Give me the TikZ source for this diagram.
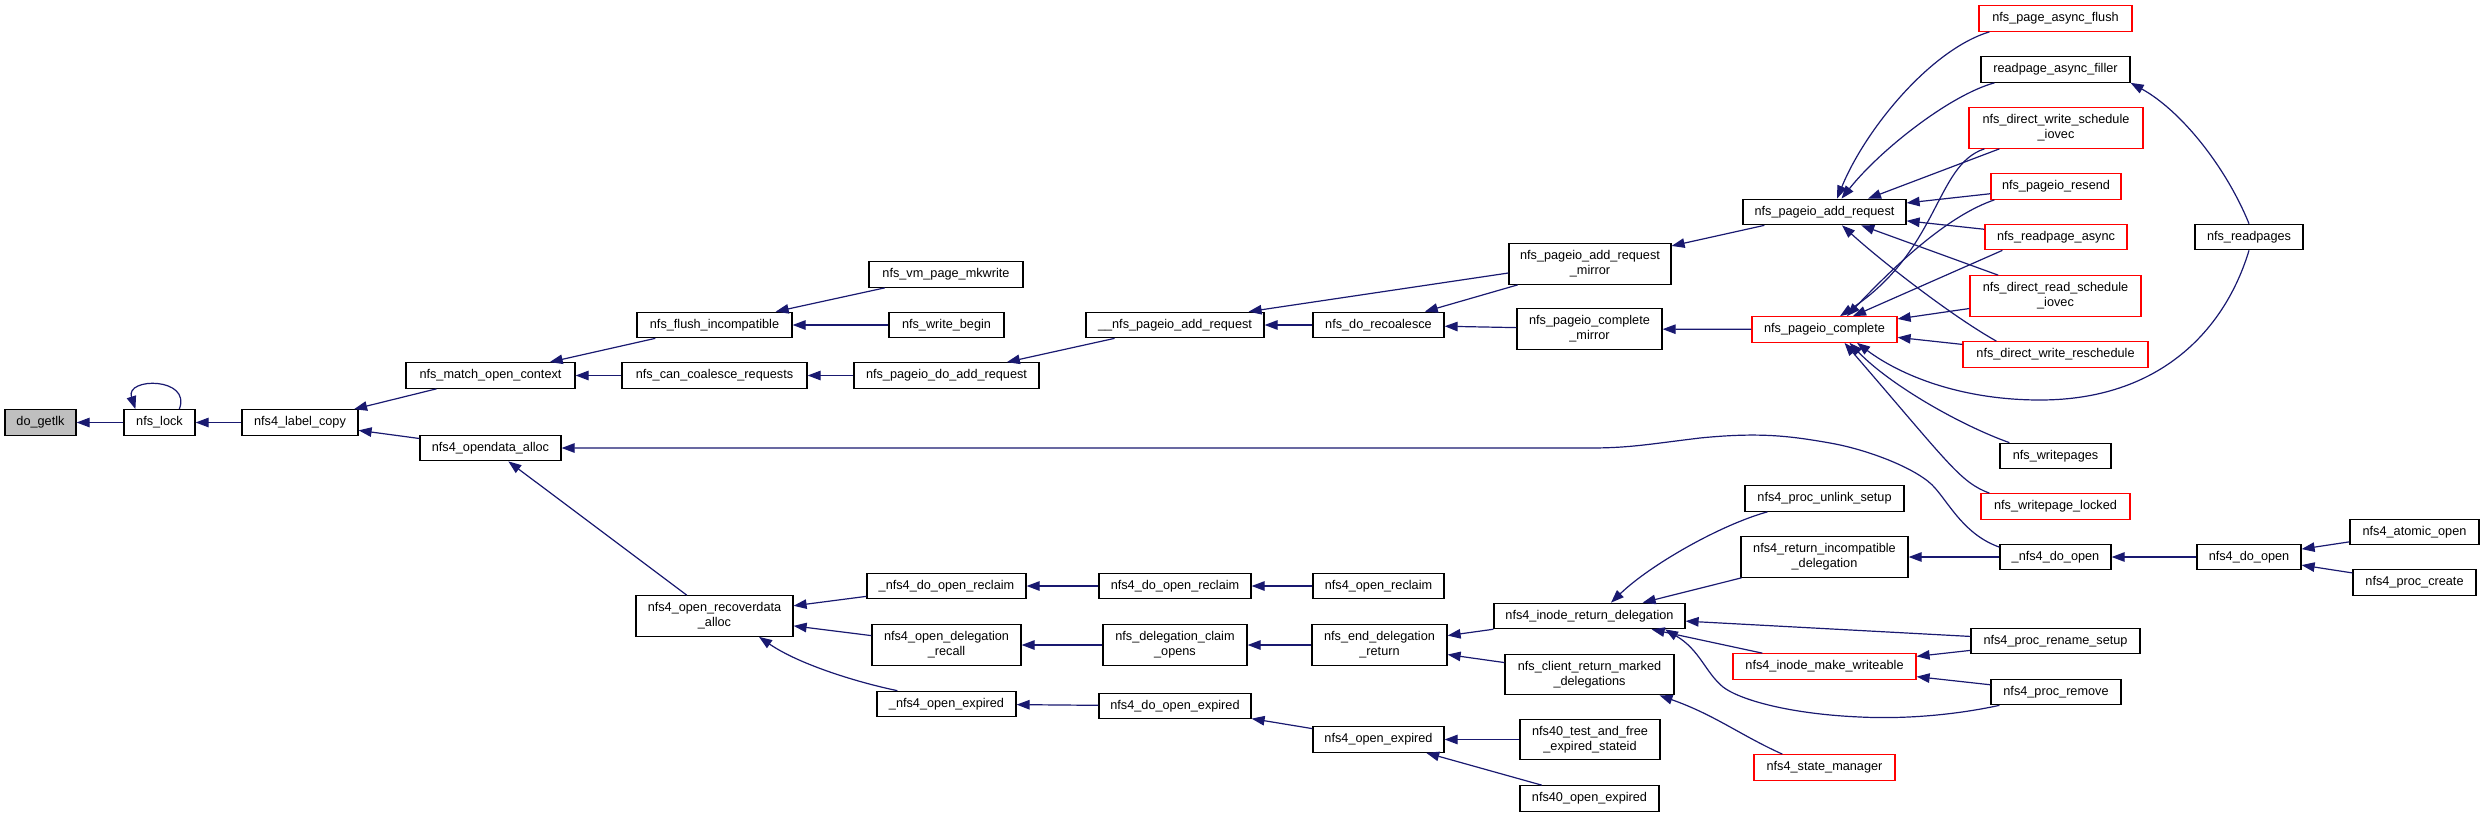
\documentclass[tikz,border=0pt]{standalone}
\usepackage{fontspec}
\setmainfont{Liberation Sans}
\usetikzlibrary{arrows.meta}
\definecolor{EdgeClr}{rgb}{0.098,0.098,0.439}
\definecolor{RootClr}{rgb}{0.75,0.75,0.75}

\begin{document}
\begin{tikzpicture}[x=1pt,y=-1pt,
  fn/.style={draw=black,line width=1.2pt,fill=white,inner sep=2pt,minimum height=25.5pt,align=center,font=\fontsize{12.7pt}{15pt}\selectfont},
  fnred/.style={fn,draw=red},
  two/.style={minimum height=40.5pt},
  call/.style={draw=EdgeClr,line width=1.2pt,-{Triangle[length=13pt,width=9.5pt]}}]
\useasboundingbox (0,0) rectangle (2484,817);

\node[fn,fill=RootClr,minimum width=71pt] (getlk) at (40.5,422.5) {do\_getlk};
\node[fn,minimum width=71pt] (lock) at (159.5,422.5) {nfs\_lock};
\node[fn,minimum width=116pt] (labelcopy) at (300,422.5) {nfs4\_label\_copy};
\node[fn,minimum width=169pt] (matchctx) at (490.5,375.5) {nfs\_match\_open\_context};
\node[fn,minimum width=141pt] (opendata) at (490.5,448) {nfs4\_opendata\_alloc};

\node[fn,minimum width=155pt] (flushinc) at (714.5,325) {nfs\_flush\_incompatible};
\node[fn,minimum width=185pt] (cancoal) at (714.5,375.5) {nfs\_can\_coalesce\_requests};
\node[fn,two,minimum width=157pt] (recover) at (714.5,616) {nfs4\_open\_recoverdata\\\_alloc};

\node[fn,minimum width=154pt] (mkwrite) at (946,274.5) {nfs\_vm\_page\_mkwrite};
\node[fn,minimum width=115pt] (wbegin) at (946.5,325) {nfs\_write\_begin};
\node[fn,minimum width=185pt] (doadd) at (946.5,375.5) {nfs\_pageio\_do\_add\_request};
\node[fn,minimum width=159pt] (reclaimx) at (946.5,586) {\_nfs4\_do\_open\_reclaim};
\node[fn,two,minimum width=149pt] (delegrecall) at (946.5,645) {nfs4\_open\_delegation\\\_recall};
\node[fn,minimum width=139pt] (expiredx) at (946.5,704) {\_nfs4\_open\_expired};

\node[fn,minimum width=178pt] (uuadd) at (1175,325) {\_\_nfs\_pageio\_add\_request};
\node[fn,minimum width=152pt] (doreclaim) at (1175,586) {nfs4\_do\_open\_reclaim};
\node[fn,two,minimum width=144pt] (claimopens) at (1175,645) {nfs\_delegation\_claim\\\_opens};
\node[fn,minimum width=152pt] (doexpired) at (1175,706) {nfs4\_do\_open\_expired};

\node[fn,minimum width=131pt] (recoal) at (1378.5,325) {nfs\_do\_recoalesce};
\node[fn,minimum width=131pt] (openreclaim) at (1378.5,586) {nfs4\_open\_reclaim};
\node[fn,two,minimum width=135pt] (enddeleg) at (1379.5,645) {nfs\_end\_delegation\\\_return};
\node[fn,minimum width=131pt] (openexpired) at (1378.5,739.5) {nfs4\_open\_expired};

\node[fn,two,minimum width=162pt] (addmirror) at (1590,264) {nfs\_pageio\_add\_request\\\_mirror};
\node[fn,two,minimum width=145pt] (compmirror) at (1589.5,329) {nfs\_pageio\_complete\\\_mirror};
\node[fn,minimum width=191pt] (inoderet) at (1589.5,616) {nfs4\_inode\_return\_delegation};
\node[fn,two,minimum width=169pt] (clientret) at (1589.5,674.5) {nfs\_client\_return\_marked\\\_delegations};
\node[fn,two,minimum width=140pt] (testfree) at (1590,739.5) {nfs40\_test\_and\_free\\\_expired\_stateid};
\node[fn,minimum width=139pt] (expired40) at (1589.5,798.5) {nfs40\_open\_expired};

\node[fn,minimum width=163pt] (pgadd) at (1824.5,212) {nfs\_pageio\_add\_request};
\node[fnred,minimum width=145pt] (pgcomp) at (1824.5,329.5) {nfs\_pageio\_complete};
\node[fn,minimum width=159pt] (unlink) at (1824.5,498.5) {nfs4\_proc\_unlink\_setup};
\node[fn,two,minimum width=167pt] (retincompat) at (1824.5,557) {nfs4\_return\_incompatible\\\_delegation};
\node[fnred,minimum width=183pt] (makewr) at (1824.5,666.5) {nfs4\_inode\_make\_writeable};
\node[fnred,minimum width=141pt] (statemgr) at (1824.5,767.5) {nfs4\_state\_manager};

\node[fnred,minimum width=153pt] (asyncflush) at (2055.5,18.5) {nfs\_page\_async\_flush};
\node[fn,minimum width=149pt] (filler) at (2055.5,69.5) {readpage\_async\_filler};
\node[fnred,two,minimum width=174pt] (dwsched) at (2056,128) {nfs\_direct\_write\_schedule\\\_iovec};
\node[fnred,minimum width=130pt] (resend) at (2056,186.5) {nfs\_pageio\_resend};
\node[fnred,minimum width=142pt] (rdasync) at (2056,237) {nfs\_readpage\_async};
\node[fnred,two,minimum width=171pt] (drsched) at (2055.5,296) {nfs\_direct\_read\_schedule\\\_iovec};
\node[fnred,minimum width=185pt] (dwresched) at (2055.5,354.5) {nfs\_direct\_write\_reschedule};
\node[fn,minimum width=111pt] (writepages) at (2055.5,456) {nfs\_writepages};
\node[fnred,minimum width=149pt] (wplocked) at (2055.5,506.5) {nfs\_writepage\_locked};
\node[fn,minimum width=111pt] (doopenx) at (2055.5,557) {\_nfs4\_do\_open};
\node[fn,minimum width=169pt] (renamesetup) at (2055.5,641) {nfs4\_proc\_rename\_setup};
\node[fn,minimum width=130pt] (remove) at (2056,692) {nfs4\_proc\_remove};

\node[fn,minimum width=108pt] (readpages) at (2249,237) {nfs\_readpages};
\node[fn,minimum width=104pt] (doopen) at (2249,557) {nfs4\_do\_open};
\node[fn,minimum width=129pt] (atomicopen) at (2414.5,532) {nfs4\_atomic\_open};
\node[fn,minimum width=123pt] (proccreate) at (2414.5,582.5) {nfs4\_proc\_create};

\draw[call] (lock) -- (getlk);
\draw[call] (lock.34) .. controls (192,377) and (125,377) .. (lock.151);
\draw[call] (labelcopy) -- (lock);
\draw[call] (matchctx) -- (labelcopy);
\draw[call] (opendata) -- (labelcopy);
\draw[call] (flushinc) -- (matchctx);
\draw[call] (cancoal) -- (matchctx);
\draw[call] (mkwrite) -- (flushinc);
\draw[call] (wbegin) -- (flushinc);
\draw[call] (doadd) -- (cancoal);
\draw[call] (uuadd) -- (doadd);
\draw[call] ([yshift=-9pt]addmirror.west) -- ([xshift=-16pt]uuadd.north east);
\draw[call] (recoal) -- (uuadd);
\draw[call] (addmirror) -- (recoal);
\draw[call] (compmirror) -- (recoal);
\draw[call] (pgadd) -- (addmirror);
\draw[call] (pgcomp) -- (compmirror);

\draw[call] ([xshift=11pt]asyncflush.south west) .. controls (1930,50) and (1865,130) .. ([xshift=12.5pt]pgadd.north);
\draw[call] ([xshift=14pt]filler.south west) .. controls (1950,95) and (1880,150) .. ([xshift=17pt]pgadd.north);
\draw[call] ([xshift=31pt]dwsched.south west) -- ([xshift=43.5pt]pgadd.north);
\draw[call] (resend) -- (pgadd);
\draw[call] (rdasync) -- (pgadd);
\draw[call] (drsched) -- (pgadd);
\draw[call] ([xshift=34pt]dwresched.north west) .. controls (1950,315) and (1880,260) .. ([xshift=17.5pt]pgadd.south);

\draw[call] ([xshift=16pt]dwsched.south west) .. controls (1935,165) and (1940,250) .. ([xshift=15.5pt]pgcomp.north);
\draw[call] ([xshift=4pt]resend.south west) .. controls (1950,215) and (1900,260) .. ([xshift=22.5pt]pgcomp.north);
\draw[call] ([xshift=18pt]rdasync.south west) -- ([xshift=28.5pt]pgcomp.north);
\draw[call] (drsched) -- (pgcomp);
\draw[call] (dwresched) -- (pgcomp);
\draw[call] ([xshift=10pt]writepages.north west) .. controls (1960,425) and (1890,385) .. ([xshift=25pt]pgcomp.south);
\draw[call] ([xshift=9pt]wplocked.north west) .. controls (1960,482) and (1950,465) .. ([xshift=20pt]pgcomp.south);
\draw[call] (readpages.south) .. controls (2225,330) and (2160,400) .. (2040,400) .. controls (1960,400) and (1900,375) .. ([xshift=32.5pt]pgcomp.south);
\draw[call] (readpages.north) .. controls (2225,165) and (2180,110) .. (filler.south east);

\draw[call] (recover) -- (opendata);
\draw[call] (doopenx.170) .. controls (1965,535) and (1950,505) .. (1935,488) .. controls (1920,470) and (1870,450) .. (1830,443) .. controls (1790,436) and (1760,432) .. (1700,438) .. controls (1650,444) and (1630,448) .. (1590,448) -- (opendata);
\draw[call] (reclaimx) -- (recover);
\draw[call] (delegrecall) -- (recover);
\draw[call] ([xshift=21pt]expiredx.north west) .. controls (860,683) and (800,665) .. ([xshift=44.5pt]recover.south);
\draw[call] (doreclaim) -- (reclaimx);
\draw[call] (claimopens) -- (delegrecall);
\draw[call] (doexpired) -- (expiredx);
\draw[call] (openreclaim) -- (doreclaim);
\draw[call] (enddeleg) -- (claimopens);
\draw[call] (openexpired) -- (doexpired);
\draw[call] (inoderet) -- (enddeleg);
\draw[call] (clientret) -- (enddeleg);
\draw[call] (testfree) -- (openexpired);
\draw[call] (expired40) -- (openexpired);

\draw[call] ([xshift=23pt]unlink.south west) .. controls (1720,525) and (1650,565) .. ([xshift=21.5pt]inoderet.north);
\draw[call] (retincompat) -- (inoderet);
\draw[call] (renamesetup) -- (inoderet);
\draw[call] (makewr) -- (inoderet);
\draw[call] ([xshift=9pt]remove.south west) .. controls (1950,716) and (1900,719) .. (1860,717) .. controls (1790,714) and (1740,700) .. (1723,687) .. controls (1705,672) and (1700,650) .. ([xshift=75.5pt]inoderet.south);
\draw[call] ([xshift=29pt]statemgr.north west) .. controls (1740,735) and (1715,715) .. ([xshift=70pt]clientret.south);
\draw[call] (renamesetup) -- (makewr);
\draw[call] (remove) -- (makewr);
\draw[call] (doopenx) -- (retincompat);
\draw[call] (doopen) -- (doopenx);
\draw[call] (atomicopen) -- (doopen);
\draw[call] (proccreate) -- (doopen);

\end{tikzpicture}
\end{document}
